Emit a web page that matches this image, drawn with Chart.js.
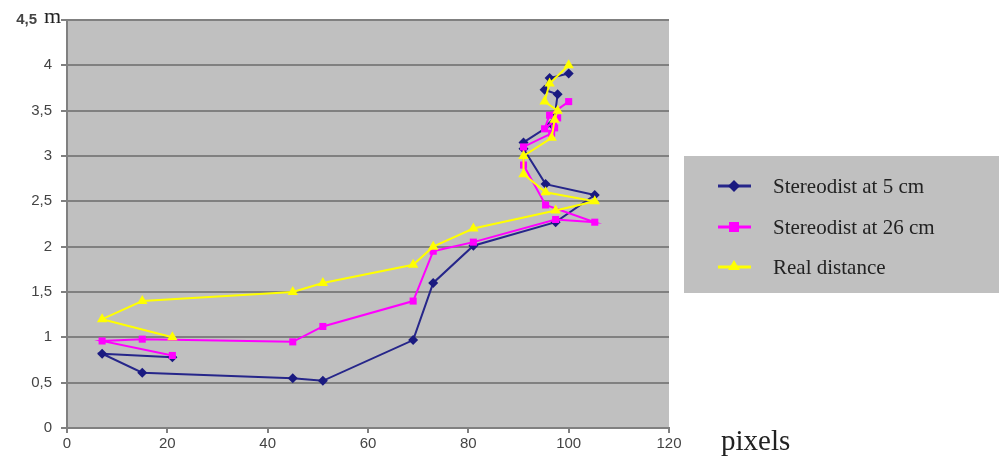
<!DOCTYPE html>
<html>
<head>
<meta charset="utf-8">
<script src="https://cdn.jsdelivr.net/npm/chart.js@4"></script>
<style>
	html, body { margin: 0; padding: 0; background: #fff; }
	#wrap { width: 999px; height: 460px; }
</style>
</head>
<body>
<div id="wrap"><canvas id="chart" width="999" height="460"></canvas></div>
<script>
// measurement positions (pixels) and distances (m), in measurement order
const xPixels = [21, 7, 15, 45, 51, 69, 73, 81, 97.4, 105.2, 95.4, 91, 91, 96.6, 97.2, 97.8, 95.2, 96.2, 100];
const stereo5 = [0.78, 0.82, 0.61, 0.55, 0.52, 0.97, 1.6, 2.01, 2.27, 2.57, 2.69, 3.08, 3.15, 3.35, 3.43, 3.68, 3.73, 3.86, 3.91];
const stereo26 = [0.8, 0.96, 0.98, 0.95, 1.12, 1.4, 1.95, 2.05, 2.3, 2.27, 2.46, 2.9, 3.1, 3.25, 3.31, 3.42, 3.3, 3.45, 3.6];
const realDist = [1.0, 1.2, 1.4, 1.5, 1.6, 1.8, 2.0, 2.2, 2.4, 2.5, 2.6, 2.8, 3.0, 3.2, 3.4, 3.5, 3.6, 3.8, 4.0];

const seriesNames = ["Stereodist at 5 cm", "Stereodist at 26 cm", "Real distance"];
const yTickLabels = ["0", "0,5", "1", "1,5", "2", "2,5", "3", "3,5", "4", "4,5"];
const xTickLabels = ["0", "20", "40", "60", "80", "100", "120"];

const tickFont = "15px 'Liberation Sans'";
const toPoints = (ys) => xPixels.map((x, i) => ({ x: x, y: ys[i] }));

// gray plot background, legend box and the unit labels
const decorations = {
	id: "decorations",
	beforeDraw(chart) {
		const { ctx, chartArea } = chart;
		ctx.save();
		ctx.fillStyle = "#c0c0c0";
		ctx.fillRect(chartArea.left, chartArea.top, chartArea.right - chartArea.left, chartArea.bottom - chartArea.top);
		ctx.restore();
	},
	afterDraw(chart) {
		const ctx = chart.ctx;
		const yScale = chart.scales.y;
		ctx.save();

		// top tick label sits left of the unit "m"
		ctx.fillStyle = "#444";
		ctx.font = "bold " + tickFont;
		ctx.textAlign = "right";
		ctx.textBaseline = "middle";
		ctx.fillText(yTickLabels[9], 37, yScale.getPixelForValue(4.5));

		// unit labels
		ctx.fillStyle = "#222";
		ctx.textBaseline = "alphabetic";
		ctx.textAlign = "left";
		ctx.font = "22px 'Liberation Serif'";
		ctx.fillText("m", 44, 23);
		ctx.font = "29px 'Liberation Serif'";
		ctx.fillText("pixels", 721, 450);

		// legend
		ctx.fillStyle = "#c0c0c0";
		ctx.fillRect(684, 156, 315, 137);
		const rows = [186, 227, 267];
		chart.data.datasets.forEach((ds, i) => {
			const y = rows[i];
			ctx.strokeStyle = ds.borderColor;
			ctx.lineWidth = 3;
			ctx.beginPath();
			ctx.moveTo(718, y);
			ctx.lineTo(751, y);
			ctx.stroke();
			ctx.fillStyle = ds.backgroundColor;
			ctx.beginPath();
			if (ds.pointStyle === "rectRot") {
				ctx.moveTo(734, y - 6);
				ctx.lineTo(740, y);
				ctx.lineTo(734, y + 6);
				ctx.lineTo(728, y);
			} else if (ds.pointStyle === "rect") {
				ctx.rect(729, y - 5, 10, 10);
			} else {
				ctx.moveTo(734, y - 7);
				ctx.lineTo(740, y + 3);
				ctx.lineTo(728, y + 3);
			}
			ctx.closePath();
			ctx.fill();
			ctx.fillStyle = "#222";
			ctx.font = "21px 'Liberation Serif'";
			ctx.textBaseline = "middle";
			ctx.fillText(ds.label, 773, y + 1);
		});
		ctx.restore();
	},
};

const ctx = document.getElementById("chart").getContext("2d");
new Chart(ctx, {
	type: "scatter",
	data: {
		datasets: [
			{
				label: seriesNames[0],
				data: toPoints(stereo5),
				showLine: true,
				borderColor: "#26268a",
				backgroundColor: "#1a1a80",
				borderWidth: 2,
				pointStyle: "rectRot",
				pointRadius: 5,
				pointBorderWidth: 0,
				order: 2,
			},
			{
				label: seriesNames[1],
				data: toPoints(stereo26),
				showLine: true,
				borderColor: "#ff00ff",
				backgroundColor: "#ff00ff",
				borderWidth: 2,
				pointStyle: "rect",
				pointRadius: 5,
				pointBorderWidth: 0,
				order: 1,
			},
			{
				label: seriesNames[2],
				data: toPoints(realDist),
				showLine: true,
				borderColor: "#ffff00",
				backgroundColor: "#ffff00",
				borderWidth: 2,
				pointStyle: "triangle",
				pointRadius: 6,
				pointBorderWidth: 0,
				order: 0,
			},
		],
	},
	options: {
		responsive: false,
		animation: false,
		layout: {
			padding: { top: 20, right: 330, bottom: 0, left: 0 },
		},
		plugins: {
			legend: { display: false },
			tooltip: { enabled: false },
		},
		scales: {
			x: {
				type: "linear",
				min: 0,
				max: 120,
				afterFit(scale) {
					scale.height = 32;
				},
				ticks: {
					stepSize: 20,
					padding: 2,
					color: "#444",
					font: { family: "'Liberation Sans'", size: 15 },
					callback: (v) => xTickLabels[v / 20],
				},
				grid: {
					drawOnChartArea: false,
					drawTicks: true,
					tickLength: 5,
					color: "#808080",
					lineWidth: 2,
				},
				border: { color: "#808080", width: 2 },
			},
			y: {
				type: "linear",
				min: 0,
				max: 4.5,
				afterFit(scale) {
					scale.width = 67;
				},
				ticks: {
					stepSize: 0.5,
					padding: 9,
					color: "#444",
					font: { family: "'Liberation Sans'", size: 15 },
					callback: (v) => (v === 4.5 ? "" : yTickLabels[Math.round(v * 2)]),
				},
				grid: {
					color: "#808080",
					lineWidth: 2,
					tickLength: 6,
				},
				border: { color: "#808080", width: 2 },
			},
		},
	},
	plugins: [decorations],
});
</script>
</body>
</html>
